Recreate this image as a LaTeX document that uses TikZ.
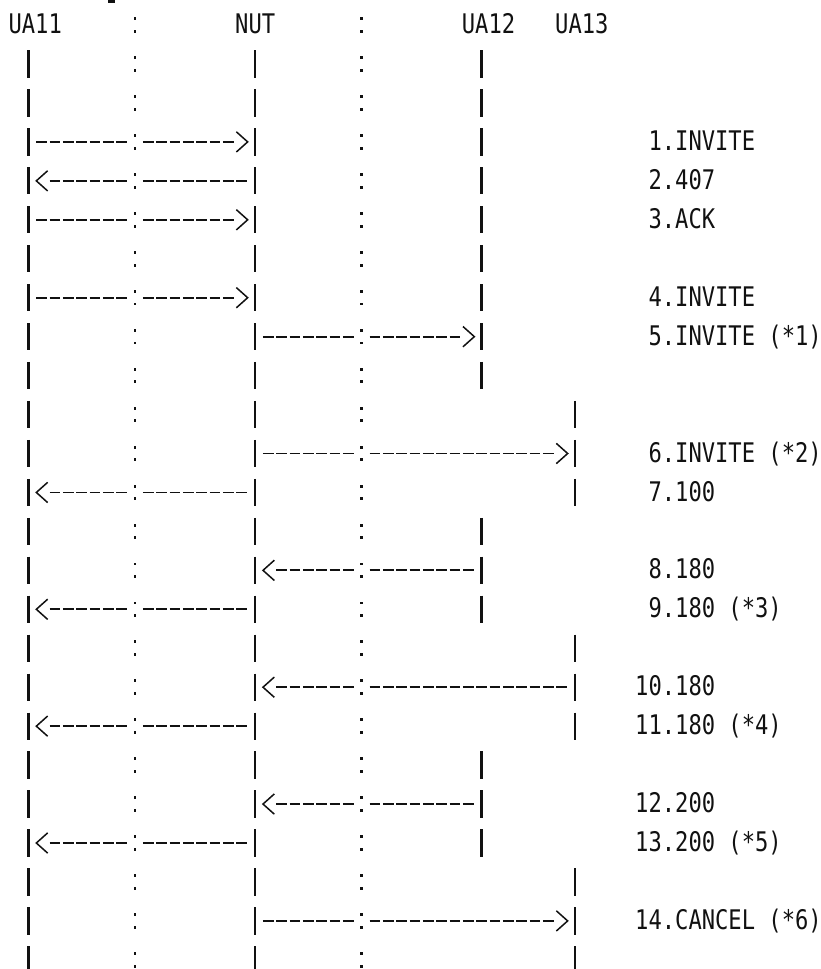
\documentclass[tikz,border=0pt]{standalone}
\usepackage{fontspec}
\newfontfamily\gothic[FakeStretch=0.82]{DejaVu Sans Mono}
\definecolor{inkblack}{HTML}{111111}

\begin{document}
\begin{tikzpicture}[x=13.333pt, y=-38.95pt,
  glyph/.style={font=\gothic\fontsize{27}{30}\selectfont, text=inkblack, inner sep=0pt, anchor=base west},
  barline/.style={inkblack, line width=2.8pt},
  dashline/.style={inkblack, line width=1.9pt},
  chevron/.style={inkblack, line width=1.5pt}]
\def\baseshift{0.22}
\useasboundingbox (-1.125,-0.643) rectangle (60.45,24.235);
% Cut-off glyph at the top edge
\fill[inkblack] (6.975,-0.643) rectangle (7.5,-0.574);
% Header names
\node[glyph] (ua11) at (-0.5,\baseshift) {UA11};
\node[glyph] (nut)  at (16.5,\baseshift) {NUT};
\node[glyph] (ua12) at (33.5,\baseshift) {UA12};
\node[glyph] (ua13) at (40.5,\baseshift) {UA13};
% Colon columns
\foreach \r in {0,...,24}{
  \foreach \c in {9,26}{
    \fill[inkblack] (\c-0.11,\r-0.2) rectangle (\c+0.11,\r-0.125);
    \fill[inkblack] (\c-0.11,\r+0.125) rectangle (\c+0.11,\r+0.2);
  }
}
% Lifeline bars
\foreach \c/\rows in {1/{1,...,24},18/{1,...,24},
    35/{1,2,3,4,5,6,7,8,9,13,14,15,19,20,21},
    42/{10,11,12,16,17,18,22,23,24}}{
  \foreach \r in \rows{
    \draw[barline] (\c,\r-0.35) -- (\c,\r+0.35);
  }
}
% Messages: row / from / to / head column / direction
\foreach \r/\a/\b/\h/\s in {3/1/18/17/1,4/1/18/2/-1,5/1/18/17/1,7/1/18/17/1,
    8/18/35/34/1,11/18/42/41/1,12/1/18/2/-1,14/18/35/19/-1,15/1/18/2/-1,
    17/18/42/19/-1,18/1/18/2/-1,20/18/35/19/-1,21/1/18/2/-1,23/18/42/41/1}{
  \pgfmathtruncatemacro\ca{\a+1}
  \pgfmathtruncatemacro\cb{\b-1}
  \foreach \c in {\ca,...,\cb}{
    \ifnum\c=\h
      \draw[chevron] ({\c+0.025-0.425*\s},\r-0.26) -- ({\c+0.025+0.425*\s},\r)
                     -- ({\c+0.025-0.425*\s},\r+0.26);
    \else\ifnum\c=9\else\ifnum\c=26\else
      \draw[dashline] (\c-0.4,\r) -- (\c+0.4,\r);
    \fi\fi\fi
  }
}
% Message labels
\foreach \r/\x/\txt [count=\i] in {3/47.5/{1.INVITE},4/47.5/{2.407},5/47.5/{3.ACK},
    7/47.5/{4.INVITE},8/47.5/{5.INVITE (*1)},11/47.5/{6.INVITE (*2)},
    12/47.5/{7.100},14/47.5/{8.180},15/47.5/{9.180 (*3)},17/46.5/{10.180},
    18/46.5/{11.180 (*4)},20/46.5/{12.200},21/46.5/{13.200 (*5)},
    23/46.5/{14.CANCEL (*6)}}{
  \node[glyph] (msg\i) at (\x,\r+\baseshift) {\txt};
}
\end{tikzpicture}
\end{document}
